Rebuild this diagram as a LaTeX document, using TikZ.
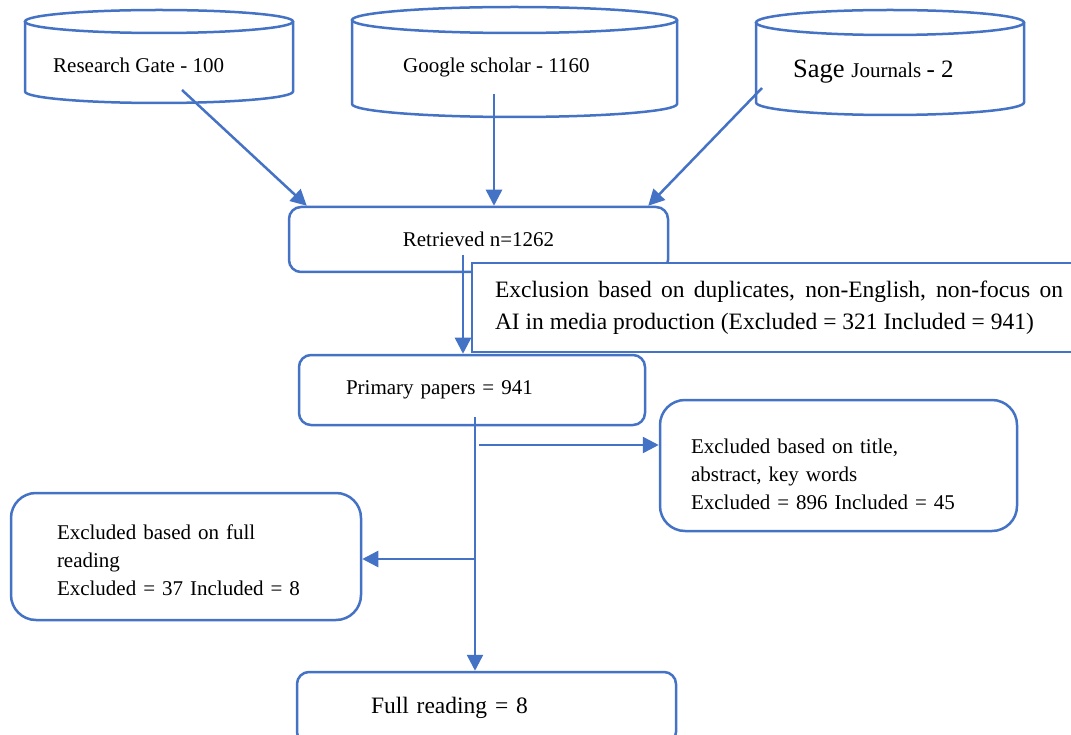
\documentclass[tikz,border=0pt]{standalone}
\usepackage{fontspec}
\setmainfont{Liberation Serif}
\usetikzlibrary{arrows.meta}
\definecolor{MSBlue}{HTML}{4472C4}

\begin{document}
\begin{tikzpicture}[x=1pt, y=-1pt,
    box/.style = {draw=MSBlue, line width=2.5pt, rounded corners=12pt, font=\fontsize{21}{28}\selectfont},
    dbtext/.style = {inner sep=0pt, anchor=west, font=\fontsize{21}{25}\selectfont},
    dbline/.style = {draw=MSBlue, line width=2.5pt},
    flow/.style = {draw=MSBlue, line width=2.5pt, -{Triangle[length=16pt, width=16pt]}}]
  \useasboundingbox (0,0) rectangle (1071,735);
  \clip (0,0) rectangle (1071,735);
  \foreach \l/\r/\t/\b/\ry in {25/293/10/103/11.5, 352/677/7/117/13, 756/1024/10/115/12.5} {
    \pgfmathsetmacro{\cx}{(\l+\r)/2}
    \pgfmathsetmacro{\rx}{(\r-\l)/2}
    \draw[dbline] (\cx,\t+\ry) ellipse [x radius=\rx pt, y radius=\ry pt];
    \draw[dbline] (\l,\t+\ry) -- (\l,\b-\ry) arc [start angle=180, end angle=360, x radius=\rx pt, y radius=\ry pt] -- (\r,\t+\ry);
  }
  \node[dbtext] (rg) at (53,65) {Research Gate - 100};
  \node[dbtext] (gs) at (403,67) {Google scholar - 1160};
  \node[dbtext] (sj) at (793,71.5) {\fontsize{26.5}{30}\selectfont Sage \fontsize{21}{25}\selectfont Journals \fontsize{25}{30}\selectfont - 2};
  \node[box, minimum width=379pt, minimum height=65pt] (retr) at (478.5,239.5) {Retrieved n=1262};
  \node[box, sharp corners, fill=white, text width=568pt, inner xsep=23pt, minimum height=89pt, align=justify,
        font=\fontsize{23.5}{32}\selectfont] (excl) at (779,307.5)
        {Exclusion based on duplicates, non-English, non-focus on\linebreak AI in media production (Excluded = 321 Included = 941)};
  \node[box, text width=252pt, inner xsep=47pt, align=left, minimum height=70pt] (prim) at (472,390) {Primary papers = 941};
  \node[box, rounded corners=25pt, text width=295pt, inner xsep=31pt, align=left, minimum height=131pt] (titl) at (838.5,465.5)
        {\rule{0pt}{33pt}Excluded based on title,\\ abstract, key words\\ Excluded = 896 Included = 45};
  \node[box, rounded corners=25pt, text width=258pt, inner xsep=46pt, align=left, minimum height=127pt] (frex) at (186,556.5)
        {\rule{0pt}{23pt}Excluded based on full\\ reading\\ Excluded = 37 Included = 8};
  \node[box, text width=231pt, inner xsep=74pt, align=left, minimum height=72pt, font=\fontsize{23.5}{28}\selectfont] (fullr) at (486.5,708) {Full reading = 8};
  \coordinate (rgout) at (182,90);
  \coordinate (gsout) at (494,94);
  \coordinate (sjout) at (762,88);
  \draw[flow] (rgout) -- ([xshift=19pt]retr.north west);
  \draw[flow] (gsout) -- (gsout |- retr.north);
  \draw[flow] (sjout) -- ([xshift=-21pt]retr.north east);
  \coordinate (rtout) at (463,255);
  \draw[flow] (rtout) -- (rtout |- prim.north);
  \coordinate (ppout) at (475,417);
  \draw[flow] (ppout) -- (ppout |- fullr.north);
  \coordinate (tsplit) at (479,445);
  \draw[flow] (tsplit) -- (tsplit -| titl.west);
  \coordinate (fsplit) at (475,559);
  \draw[flow] (fsplit) -- (fsplit -| frex.east);
\end{tikzpicture}
\end{document}
